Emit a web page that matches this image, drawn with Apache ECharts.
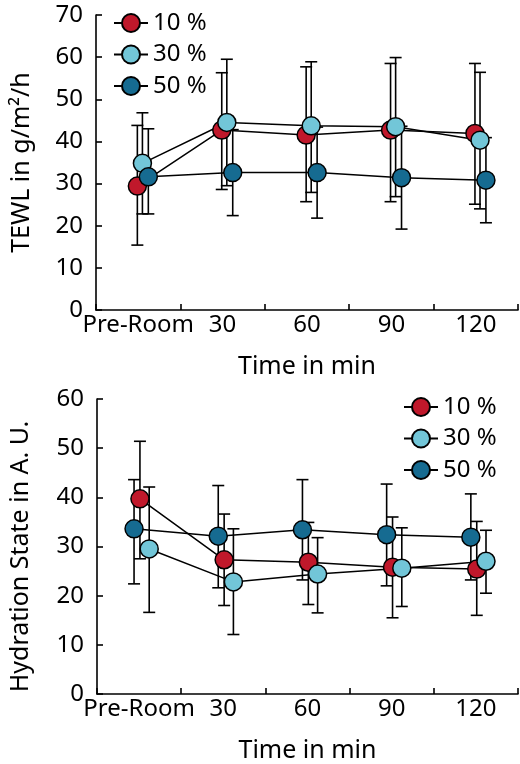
<!DOCTYPE html>
<html><head><meta charset="utf-8">
<script src="https://cdn.jsdelivr.net/npm/echarts@6/dist/echarts.min.js"></script>
<style>html,body{margin:0;padding:0;background:#fff}#c{width:520px;height:764px}</style>
</head><body><div id="c"></div>
<script>
// ---- data ----
const categories = ['Pre-Room', '30', '60', '90', '120'];
const seriesNames = ['10 %', '30 %', '50 %'];

// TEWL (g/m²/h)
const tewl10 = [29.4, 42.7, 41.5, 42.7, 41.9];
const tewl10Lo = [15.4, 28.6, 25.7, 25.7, 25.1];
const tewl10Hi = [43.8, 56.3, 57.7, 58.5, 58.5];
const tewl30 = [34.8, 44.5, 43.7, 43.5, 40.3];
const tewl30Lo = [22.8, 29.5, 27.9, 26.9, 24.0];
const tewl30Hi = [46.8, 59.5, 58.9, 59.9, 56.4];
const tewl50 = [31.6, 32.6, 32.6, 31.4, 30.8];
const tewl50Lo = [22.8, 22.4, 21.8, 19.2, 20.7];
const tewl50Hi = [43.0, 42.8, 43.4, 43.6, 40.9];

// Hydration state (A. U.)
const hyd10 = [39.7, 27.3, 26.8, 25.8, 25.4];
const hyd10Lo = [27.5, 18.0, 18.2, 15.5, 16.0];
const hyd10Hi = [51.4, 36.6, 34.9, 36.0, 35.1];
const hyd30 = [29.5, 22.8, 24.4, 25.6, 27.0];
const hyd30Lo = [16.6, 12.1, 16.5, 17.8, 20.5];
const hyd30Hi = [42.1, 33.6, 31.8, 33.8, 33.3];
const hyd50 = [33.6, 32.1, 33.4, 32.4, 31.9];
const hyd50Lo = [22.4, 21.6, 23.2, 22.0, 23.2];
const hyd50Hi = [43.6, 42.4, 43.6, 42.7, 40.7];

const tewlTicks = [0, 70, 10];   // min, max, interval
const hydTicks = [0, 60, 10];

// ---- styling / layout ----
const colors = ['#c0182b', '#72c6d8', '#166b91'];
const topOffsets = [-0.01, 0.05, 0.12];
const botOffsets = [0.01, 0.12, -0.06];
const FONT = 'Noto Sans';
const FS = 24;
const NFS = 25;

const chart = echarts.init(document.getElementById('c'), null, {renderer: 'canvas'});

function ptData(m, off) { return m.map((v, i) => [i + off, v]); }
function errData(lo, hi, off) { return lo.map((l, i) => [i + off, l, hi[i]]); }

function errSeries(name, lo, hi, off, axisIdx) {
  return {
    name: name, type: 'custom', xAxisIndex: axisIdx * 2 + 1, yAxisIndex: axisIdx,
    z: 1, silent: true,
    encode: {x: 0, y: [1, 2]},
    data: errData(lo, hi, off),
    renderItem: function (params, api) {
      const x = api.value(0);
      const pLo = api.coord([x, api.value(1)]);
      const pHi = api.coord([x, api.value(2)]);
      const w = 6;
      const st = {stroke: '#000', lineWidth: 1.6};
      return {type: 'group', children: [
        {type: 'line', shape: {x1: pLo[0], y1: pLo[1], x2: pHi[0], y2: pHi[1]}, style: st},
        {type: 'line', shape: {x1: pLo[0] - w, y1: pLo[1], x2: pLo[0] + w, y2: pLo[1]}, style: st},
        {type: 'line', shape: {x1: pHi[0] - w, y1: pHi[1], x2: pHi[0] + w, y2: pHi[1]}, style: st}
      ]};
    }
  };
}

function lineSeries(name, vals, off, axisIdx, color) {
  return {
    name: name, type: 'line', xAxisIndex: axisIdx * 2 + 1, yAxisIndex: axisIdx,
    z: 3,
    data: ptData(vals, off),
    symbol: 'circle', symbolSize: 18,
    lineStyle: {color: '#000', width: 1.5},
    itemStyle: {color: color, borderColor: '#000', borderWidth: 1.5},
    emphasis: {disabled: true},
    animation: false
  };
}

const axisCommon = {
  axisLine: {show: true, onZero: false, lineStyle: {color: '#000', width: 1.6}},
  axisTick: {show: true, inside: true, length: 6, lineStyle: {color: '#000', width: 1.6}},
  splitLine: {show: false},
};

function catAxis(gridIdx) {
  return Object.assign({}, axisCommon, {
    type: 'category', gridIndex: gridIdx, data: categories, boundaryGap: true,
    axisTick: Object.assign({}, axisCommon.axisTick, {interval: 0}),
    axisLabel: {color: '#000', fontSize: FS, fontFamily: FONT, margin: 3, interval: 0},
    name: 'Time in min', nameLocation: 'middle', nameGap: 44,
    nameTextStyle: {color: '#000', fontSize: NFS, fontFamily: FONT}
  });
}
function valXAxis(gridIdx) {
  return {type: 'value', gridIndex: gridIdx, min: -0.5, max: categories.length - 0.5, show: false,
          axisLine: {onZero: false}};
}
function yAxis(gridIdx, ticks, name, gap, pad) {
  return Object.assign({}, axisCommon, {
    type: 'value', gridIndex: gridIdx, min: ticks[0], max: ticks[1], interval: ticks[2],
    axisLabel: {color: '#000', fontSize: FS, fontFamily: FONT, margin: 13},
    name: name, nameLocation: 'middle', nameGap: gap,
    nameTextStyle: {color: '#000', fontSize: NFS, fontFamily: FONT, padding: pad}
  });
}

function legend(left, top) {
  return {
    orient: 'vertical', left: left, top: top,
    data: seriesNames, itemWidth: 34, itemHeight: 22.5, itemGap: 7.5,
    textStyle: {color: '#000', fontSize: FS, fontFamily: FONT},
    selectedMode: false
  };
}

const series = [];
const tops = [[tewl10, tewl10Lo, tewl10Hi], [tewl30, tewl30Lo, tewl30Hi], [tewl50, tewl50Lo, tewl50Hi]];
const bots = [[hyd10, hyd10Lo, hyd10Hi], [hyd30, hyd30Lo, hyd30Hi], [hyd50, hyd50Lo, hyd50Hi]];
tops.forEach((d, k) => series.push(errSeries('e_t' + k, d[1], d[2], topOffsets[k], 0)));
bots.forEach((d, k) => series.push(errSeries('e_b' + k, d[1], d[2], botOffsets[k], 1)));
tops.forEach((d, k) => series.push(lineSeries(seriesNames[k], d[0], topOffsets[k], 0, colors[k])));
bots.forEach((d, k) => series.push(lineSeries(seriesNames[k], d[0], botOffsets[k], 1, colors[k])));

chart.setOption({
  animation: false,
  backgroundColor: '#fff',
  textStyle: {fontFamily: FONT},
  grid: [
    {left: 96, right: 2, top: 15, height: 295},
    {left: 96, right: 2, top: 399, height: 295}
  ],
  xAxis: [catAxis(0), valXAxis(0), catAxis(1), valXAxis(1)],
  yAxis: [
    yAxis(0, tewlTicks, 'TEWL in g/m²/h', 62, [0, 0, 0, 0]),
    yAxis(1, hydTicks, 'Hydration State in A. U.', 64, [0, 20, 0, 0])
  ],
  legend: [legend(108, 6), legend(398, 390)],
  series: series
});
</script>
</body></html>
